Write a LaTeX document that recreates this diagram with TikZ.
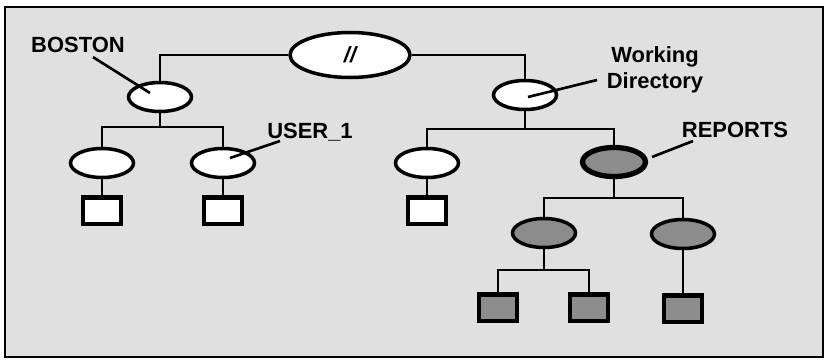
\documentclass[tikz,border=0pt]{standalone}
\usepackage{fontspec}
\setmainfont{Liberation Sans}
\usetikzlibrary{positioning,shapes.geometric}
\definecolor{paperDots}{RGB}{224,224,224}
\definecolor{hatchGray}{RGB}{140,140,140}
\tikzset{
  dirnode/.style={draw, ellipse, fill=white, line width=2pt, minimum width=1.26cm, minimum height=0.58cm, inner sep=0pt},
  rootnode/.style={dirnode, minimum width=2.4cm, minimum height=0.9cm},
  hotdir/.style={dirnode, fill=hatchGray},
  filenode/.style={draw, rectangle, fill=white, line width=2.6pt, minimum width=0.76cm, minimum height=0.53cm, inner sep=0pt},
  hotfile/.style={filenode, fill=hatchGray},
  tag/.style={font=\fontsize{12.5}{15}\selectfont\bfseries, align=center, inner sep=0pt},
  branch/.style={line width=1.4pt},
  pointer/.style={line width=1.5pt}
}
\begin{document}
\begin{tikzpicture}[x=0.02cm, y=-0.02cm]
  \useasboundingbox (0,0) rectangle (826,362);
  \fill[paperDots] (5,7) rectangle (823,357);
  \draw[line width=1.7pt] (5,7) rectangle (823,357);
  % directories
  \node[rootnode, font=\fontsize{12.5}{15}\selectfont\bfseries\itshape] (root) at (350,55) {//};
  \node[dirnode] (boston) at (160,97) {};
  \node[dirnode] (wd) at (525,95) {};
  \node[dirnode] (b1) at (102,163) {};
  \node[dirnode] (user) at (223,163) {};
  \node[dirnode] (w1) at (427,163) {};
  \node[hotdir, line width=3pt] (reports) at (614,162) {};
  \node[hotdir] (rep1) at (544,233) {};
  \node[hotdir] (rep2) at (683,234) {};
  % files
  \node[filenode, below=0.32cm of b1] (f1) {};
  \node[filenode, below=0.32cm of user] (f2) {};
  \node[filenode, below=0.32cm of w1] (f3) {};
  \node[hotfile, below=0.86cm of rep1, xshift=-0.92cm] (fa1) {};
  \node[hotfile, below=0.86cm of rep1, xshift=0.9cm] (fa2) {};
  \node[hotfile, below=0.86cm of rep2] (fb1) {};
  % tree
  \draw[branch] (root.west) -| (boston.north);
  \draw[branch] (root.east) -| (wd.north);
  \draw[branch] (boston.south) -- ++(0,14) coordinate (bj);
  \draw[branch] (bj) -| (b1.north);
  \draw[branch] (bj) -| (user.north);
  \draw[branch] (wd.south) -- ++(0,18) coordinate (wj);
  \draw[branch] (wj) -| (w1.north);
  \draw[branch] (wj) -| (reports.north);
  \draw[branch] (reports.south) -- ++(0,19) coordinate (rj);
  \draw[branch] (rj) -| (rep1.north);
  \draw[branch] (rj) -| (rep2.north);
  \draw[branch] (rep1.south) -- ++(0,21) coordinate (aj);
  \draw[branch] (aj) -| (fa1.north);
  \draw[branch] (aj) -| (fa2.north);
  \draw[branch] (rep2) -- (fb1);
  \draw[branch] (b1) -- (f1);
  \draw[branch] (user) -- (f2);
  \draw[branch] (w1) -- (f3);
  % labels
  \node[tag] (bostonTag) at (78,45) {BOSTON};
  \node[tag] (userTag) at (310,132) {USER\_1};
  \node[tag] (wdTag) at (655,70) {Working\\Directory};
  \node[tag] (repTag) at (735,130) {REPORTS};
  \draw[pointer] ([shift={(15,4)}]bostonTag.south) -- ([shift={(-10,-4)}]boston.center);
  \draw[pointer] ([shift={(-30,9)}]userTag.center) -- ([shift={(7,-5)}]user.center);
  \draw[pointer] ([shift={(-58,10)}]wdTag.center) -- ([shift={(3,2)}]wd.center);
  \draw[pointer] ([shift={(-42,11)}]repTag.center) -- ([shift={(38,-5)}]reports.center);
\end{tikzpicture}
\end{document}
